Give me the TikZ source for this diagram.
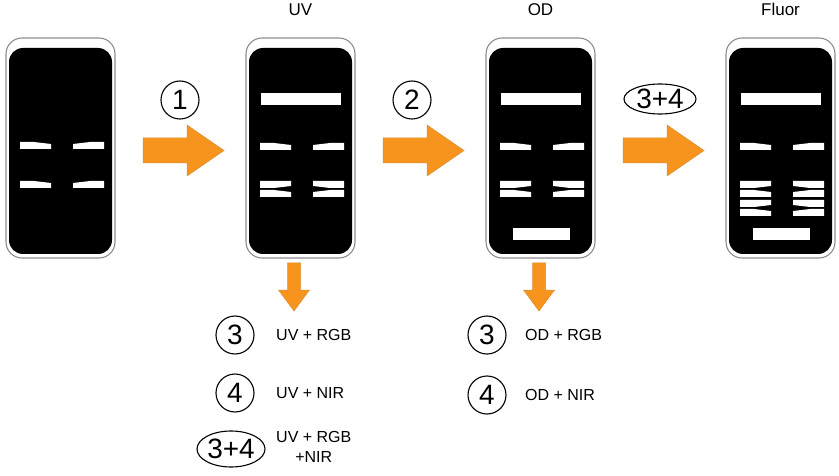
\documentclass[tikz,border=0pt]{standalone}
\usepackage{fontspec}
\setmainfont{Liberation Sans}
\usepackage{tikz}
\usetikzlibrary{positioning, calc}

\definecolor{arrowor}{RGB}{247,148,29}
\definecolor{plateline}{RGB}{140,140,140}

\tikzset{
  plate/.style={draw=plateline, line width=1.1pt, rounded corners=16pt, minimum width=109pt, minimum height=220pt, inner sep=0pt},
  gel/.style={fill=black, rounded corners=14pt},
  bigarrow/.style={fill=arrowor, draw=arrowor!75!gray, line width=0.5pt},
  numcirc/.style={circle, draw, line width=1.1pt, minimum size=38pt, inner sep=0pt, font=\fontsize{28}{28}\selectfont},
  numtext/.style={inner sep=0pt, font=\fontsize{28}{28}\selectfont},
  modelabel/.style={inner sep=0pt, font=\fontsize{17}{17}\selectfont},
  steplabel/.style={inner sep=0pt, anchor=west, font=\fontsize{16}{20}\selectfont}
}

% white bands, top edge sloping toward the centre
\newcommand{\bandtop}[2]{%
  \fill[white] (#1+14,#2) -- (#1+28,#2) -- (#1+45,#2+2) -- (#1+45,#2+7) -- (#1+14,#2+7) -- cycle;
  \fill[white] (#1+98,#2) -- (#1+84,#2) -- (#1+67,#2+2) -- (#1+67,#2+7) -- (#1+98,#2+7) -- cycle;}
% white bands, bottom edge sloping toward the centre
\newcommand{\bandbot}[2]{%
  \fill[white] (#1+14,#2) -- (#1+45,#2) -- (#1+45,#2+5) -- (#1+28,#2+7) -- (#1+14,#2+7) -- cycle;
  \fill[white] (#1+98,#2) -- (#1+67,#2) -- (#1+67,#2+5) -- (#1+84,#2+7) -- (#1+98,#2+7) -- cycle;}
% orange arrow in front of the plate starting at x = #1
\newcommand{\rightarr}[1]{%
  \draw[bigarrow] (#1-103,138) -- (#1-59,138) -- (#1-59,125) -- (#1-22,150.5)
    -- (#1-59,176) -- (#1-59,163) -- (#1-103,163) -- cycle;}
% orange arrow pointing down, centred on x = #1
\newcommand{\downarr}[1]{%
  \draw[bigarrow] (#1-6.5,263) -- (#1+6.5,263) -- (#1+6.5,290) -- (#1+15.5,290)
    -- (#1,311) -- (#1-15.5,290) -- (#1-6.5,290) -- cycle;}

\begin{document}
\begin{tikzpicture}[x=1pt, y=-1pt]
    \useasboundingbox (0,0) rectangle (839,476);

    % Plates
    \foreach \i/\x in {1/6, 2/246, 3/486, 4/726} {
        \node[plate] (p\i) at (\x+54.5,148) {};
        \fill[gel] (\x+3,48) rectangle (\x+106,254);
    }

    % Mode labels
    \node[modelabel, above=22pt of p2.north] (uv) {UV};
    \node[modelabel, above=22pt of p3.north] (od) {OD};
    \node[modelabel, above=22pt of p4.north] (fluor) {Fluor};

    % Bands, plate 1
    \bandtop{6}{142}
    \bandtop{6}{181}

    % Bands, plate 2 (UV)
    \fill[white] (261,93) rectangle (341,105);
    \bandtop{246}{143}
    \bandbot{246}{181}
    \bandtop{246}{190}

    % Bands, plate 3 (OD)
    \fill[white] (501,93) rectangle (581,105);
    \bandtop{486}{143}
    \bandbot{486}{181}
    \bandtop{486}{190}
    \fill[white] (513,228) rectangle (570,240);

    % Bands, plate 4 (Fluor)
    \fill[white] (741,93) rectangle (821,105);
    \bandtop{726}{143}
    \bandbot{726}{181}
    \bandtop{726}{190}
    \bandbot{726}{200}
    \bandtop{726}{209}
    \fill[white] (753,228) rectangle (810,240);

    % Arrows between plates
    \rightarr{246}
    \rightarr{486}
    \rightarr{726}
    \downarr{294}
    \downarr{539}

    % Step numbers
    \node[numcirc] (s1) at (180,100) {1};
    \node[numcirc] (s2) at (412,100) {2};
    \node[numtext] (s34) at (660,99) {3+4};
    \draw[line width=1.1pt] (s34.center) ellipse (36 and 15);

    % UV options
    \node[numcirc] (uv3) at (235,335) {3};
    \node[numcirc] (uv4) at (235,393) {4};
    \node[numtext] (uv34) at (231,449) {3+4};
    \draw[line width=1.1pt] (uv34.center) ellipse (34 and 18);
    \node[steplabel] (uvrgb) at (276,335) {UV + RGB};
    \node[steplabel] (uvnir) at (276,393) {UV + NIR};
    \node[steplabel, align=center] (uvall) at (276,447) {UV + RGB\\+NIR};

    % OD options
    \node[numcirc] (od3) at (487,335) {3};
    \node[numcirc] (od4) at (487,395) {4};
    \node[steplabel] (odrgb) at (525,335) {OD + RGB};
    \node[steplabel] (odnir) at (525,395) {OD + NIR};
\end{tikzpicture}
\end{document}
